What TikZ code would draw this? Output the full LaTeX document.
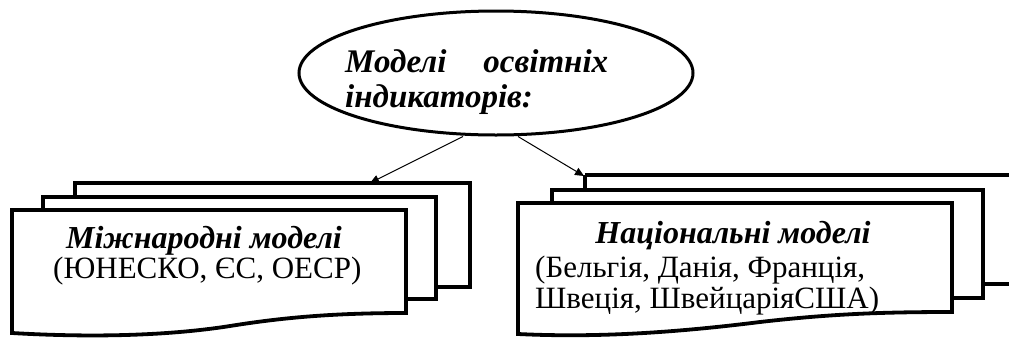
\documentclass[tikz,border=0pt]{standalone}
\usepackage{fontspec}
\setmainfont{Liberation Serif}
\usetikzlibrary{shapes.geometric,arrows.meta}
\begin{document}
\begin{tikzpicture}[x=1pt,y=-1pt,
  boxline/.style={line width=3.8pt,fill=white,line join=miter},
  arr/.style={line width=1pt,-{Triangle[length=9pt,width=8pt]}},
  elltext/.style={font=\fontsize{33}{40}\selectfont\bfseries\itshape,inner sep=0pt,anchor=base west},
  titletext/.style={font=\fontsize{32}{38}\selectfont\bfseries\itshape,inner sep=0pt,anchor=base},
  bodytext/.style={font=\fontsize{31}{37}\selectfont,inner sep=0pt,anchor=base west}]
\useasboundingbox (0,0) rectangle (1009,338);
% ellipse
\node[draw,ellipse,line width=3pt,minimum width=394pt,minimum height=124pt,inner sep=0pt] (ell) at (496,73) {};
\node[elltext] (t1) at (345,72) {\makebox[263pt][s]{Моделі\hfill освітніх}};
\node[elltext] (t2) at (345,107) {індикаторів:};
% left stack
\draw[boxline] (75,183) rectangle (470,287);
\draw[boxline] (43,197) rectangle (436,299);
\draw[boxline] (12,210) -- (406,210) -- (406,313)
  .. controls (330,313) and (280,318) .. (230,326)
  .. controls (160,337) and (80,337) .. (12,333) -- cycle;
\coordinate (lt) at (370,183);
\node[titletext] (l1) at (204,248) {Міжнародні моделі};
\node[bodytext] (l2) at (53,278) {(ЮНЕСКО, ЄС, ОЕСР)};
% right stack
\draw[boxline] (585,175) -- (1015,175) (1015,284) -- (983,284);
\draw[boxline] (552,190) rectangle (983,298);
\draw[boxline] (518,203) -- (952,203) -- (952,312)
  .. controls (880,312) and (830,314) .. (760,322)
  .. controls (680,332) and (600,338) .. (518,334) -- cycle;
\draw[line width=3.8pt] (585,175) -- (585,190);
\coordinate (rt) at (584,176);
\node[titletext] (r1) at (733,243) {Національні моделі};
\node[bodytext] (r2) at (535,277) {(Бельгія, Данія, Франція,};
\node[bodytext] (r3) at (535,308) {Швеція, ШвейцаріяСША)};
% arrows
\draw[arr] (ell.south) ++(-33,0) coordinate (ls) -- (lt);
\draw[arr] (ell.south) ++(22,0) coordinate (rs) -- (rt);
\end{tikzpicture}
\end{document}
